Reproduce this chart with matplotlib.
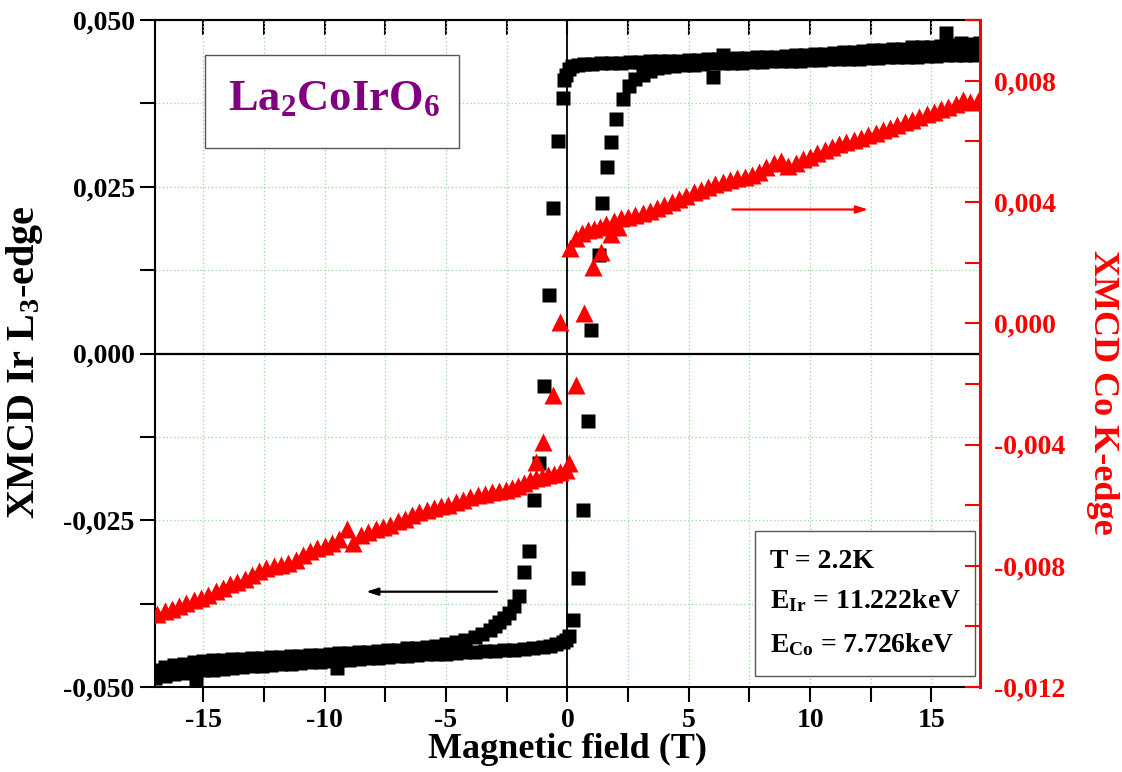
"""
XMCD hysteresis loops of La2CoIrO6 at T = 2.2 K
Ir L3-edge (left axis, black squares) and Co K-edge (right axis, red triangles).
"""
import matplotlib
matplotlib.use("Agg")
import matplotlib.pyplot as plt
import matplotlib.patches as mpatches
from matplotlib.ticker import MultipleLocator, FuncFormatter, NullFormatter

# ---- Ir L3-edge, sweep from +17 T down to -17 T
ir_down_field = [17.0, 16.6, 16.2, 15.8, 15.4, 15.0, 14.6, 14.2, 13.8, 13.4, 13.0, 12.6,
                 12.2, 11.8, 11.4, 11.0, 10.6, 10.2, 9.8, 9.4, 9.0, 8.6, 8.2, 7.8, 7.4,
                 7.0, 6.6, 6.2, 5.8, 5.4, 5.0, 4.6, 4.2, 3.8, 3.4, 3.0, 2.6, 2.2, 1.8,
                 1.4, 1.0, 0.7, 0.45, 0.2, 0.08, -0.05, -0.12, -0.19, -0.4, -0.6, -0.77,
                 -0.95, -1.15, -1.36, -1.57, -1.77, -1.98, -2.2, -2.4, -2.6, -2.8, -3.0,
                 -3.2, -3.5, -3.8, -4.2, -4.6, -5.0, -5.4, -5.8, -6.2, -6.6, -7.0, -7.4,
                 -7.8, -8.2, -8.6, -9.0, -9.4, -9.8, -10.2, -10.6, -11.0, -11.4, -11.8,
                 -12.2, -12.6, -13.0, -13.4, -13.8, -14.2, -14.6, -15.0, -15.4, -15.8,
                 -16.2, -16.6, -17.0]
ir_down_xmcd = [0.0466, 0.0464, 0.0465, 0.0462, 0.0461, 0.0460, 0.0459, 0.0459, 0.0457,
                0.0456, 0.0455, 0.0455, 0.0453, 0.0452, 0.0452, 0.0450, 0.0449, 0.0449,
                0.0447, 0.0447, 0.0446, 0.0445, 0.0445, 0.0444, 0.0443, 0.0443, 0.0442,
                0.0442, 0.0441, 0.0440, 0.0440, 0.0439, 0.0439, 0.0438, 0.0438, 0.0437,
                0.0437, 0.0436, 0.0436, 0.0435, 0.0434, 0.0434, 0.0433, 0.0431, 0.0426,
                0.0418, 0.0410, 0.0383, 0.0319, 0.0218, 0.0088, -0.0049, -0.0164, -0.0219,
                -0.0296, -0.0328, -0.0364, -0.0378, -0.0389, -0.0397, -0.0403, -0.0409,
                -0.0414, -0.0420, -0.0425, -0.0429, -0.0432, -0.0436, -0.0438, -0.0440,
                -0.0441, -0.0442, -0.0444, -0.0445, -0.0446, -0.0447, -0.0448, -0.0449,
                -0.0449, -0.0451, -0.0452, -0.0452, -0.0453, -0.0454, -0.0455, -0.0455,
                -0.0456, -0.0457, -0.0458, -0.0458, -0.0459, -0.0460, -0.0461, -0.0463,
                -0.0465, -0.0467, -0.0470, -0.0474]

# ---- Ir L3-edge, sweep from -17 T up to +17 T
ir_up_field = [-17.0, -16.6, -16.2, -15.8, -15.4, -15.0, -14.6, -14.2, -13.8, -13.4,
               -13.0, -12.6, -12.2, -11.8, -11.4, -11.0, -10.6, -10.2, -9.8, -9.4, -9.0,
               -8.6, -8.2, -7.8, -7.4, -7.0, -6.6, -6.2, -5.8, -5.4, -5.0, -4.6, -4.2,
               -3.8, -3.4, -3.0, -2.6, -2.2, -1.8, -1.4, -1.0, -0.7, -0.45, -0.2, -0.05,
               0.08, 0.22, 0.43, 0.63, 0.84, 0.97, 1.29, 1.43, 1.63, 1.8, 2.0, 2.28, 2.55,
               2.8, 3.1, 3.4, 3.7, 4.0, 4.4, 4.8, 5.2, 5.6, 6.0, 6.4, 6.8, 7.2, 7.6, 8.0,
               8.4, 8.8, 9.2, 9.6, 10.0, 10.4, 10.8, 11.2, 11.6, 12.0, 12.4, 12.8, 13.2,
               13.6, 14.0, 14.4, 14.8, 15.2, 15.6, 16.0, 16.4, 16.8, 17.0]
ir_up_xmcd = [-0.0487, -0.0484, -0.0481, -0.0479, -0.0477, -0.0475, -0.0474, -0.0473,
              -0.0471, -0.0470, -0.0469, -0.0468, -0.0467, -0.0466, -0.0465, -0.0464,
              -0.0463, -0.0462, -0.0461, -0.0460, -0.0459, -0.0458, -0.0457, -0.0456,
              -0.0455, -0.0454, -0.0453, -0.0452, -0.0451, -0.0450, -0.0450, -0.0449,
              -0.0448, -0.0447, -0.0446, -0.0446, -0.0445, -0.0444, -0.0443, -0.0442,
              -0.0440, -0.0438, -0.0435, -0.0432, -0.0429, -0.0424, -0.0399, -0.0336,
              -0.0234, -0.0101, 0.0036, 0.0148, 0.0226, 0.0279, 0.0317, 0.0351, 0.0381,
              0.0401, 0.0411, 0.0418, 0.0424, 0.0428, 0.0430, 0.0431, 0.0432, 0.0433,
              0.0434, 0.0435, 0.0435, 0.0436, 0.0436, 0.0437, 0.0437, 0.0438, 0.0438,
              0.0439, 0.0439, 0.0440, 0.0440, 0.0441, 0.0441, 0.0442, 0.0442, 0.0443,
              0.0443, 0.0444, 0.0444, 0.0445, 0.0445, 0.0446, 0.0446, 0.0447, 0.0447,
              0.0448, 0.0448, 0.0449]

# stray Ir points
ir_extra_field = [6.0, 6.4, 15.6, -9.5, -15.3]
ir_extra_xmcd = [0.0415, 0.0448, 0.0481, -0.0471, -0.0491]

# ---- Co K-edge, positive field branch
co_pos_field = [0.1, 0.35, 0.6, 0.85, 1.1, 1.35, 1.6, 1.9, 2.2, 2.5, 2.8, 3.1, 3.4, 3.7,
                4.0, 4.3, 4.6, 4.9, 5.2, 5.5, 5.8, 6.1, 6.4, 6.7, 7.0, 7.3, 7.6, 7.9, 8.2,
                8.5, 8.8, 9.1, 9.4, 9.7, 10.0, 10.3, 10.6, 10.9, 11.2, 11.5, 11.8, 12.1,
                12.4, 12.7, 13.0, 13.3, 13.6, 13.9, 14.2, 14.5, 14.8, 15.1, 15.4, 15.7,
                16.0, 16.3, 16.6, 16.9]
co_pos_xmcd = [0.00247, 0.00280, 0.00298, 0.00306, 0.00312, 0.00318, 0.00326, 0.00336,
               0.00346, 0.00352, 0.00358, 0.00364, 0.00370, 0.00380, 0.00390, 0.00400,
               0.00410, 0.00420, 0.00432, 0.00440, 0.00448, 0.00458, 0.00466, 0.00472,
               0.00478, 0.00484, 0.00490, 0.00500, 0.00514, 0.00530, 0.00536, 0.00518,
               0.00530, 0.00542, 0.00550, 0.00560, 0.00570, 0.00580, 0.00590, 0.00598,
               0.00604, 0.00612, 0.00620, 0.00628, 0.00636, 0.00644, 0.00654, 0.00664,
               0.00672, 0.00680, 0.00690, 0.00698, 0.00706, 0.00714, 0.00722, 0.00738,
               0.00730, 0.00732]

# ---- Co K-edge, return sweep rising out of the switching region
co_rise_field = [1.05, 1.39, 1.8, 2.1]
co_rise_xmcd = [0.00186, 0.00236, 0.00296, 0.00318]

# ---- Co K-edge, negative field branch
co_neg_field = [-0.05, -0.3, -0.55, -0.8, -1.05, -1.3, -1.55, -1.8, -2.05, -2.3, -2.55,
                -2.8, -3.1, -3.4, -3.7, -4.0, -4.3, -4.6, -4.9, -5.2, -5.5, -5.8, -6.1,
                -6.4, -6.7, -7.0, -7.3, -7.6, -7.9, -8.2, -8.5, -8.85, -9.1, -9.4, -9.7,
                -10.0, -10.3, -10.6, -10.9, -11.2, -11.5, -11.8, -12.1, -12.4, -12.7,
                -13.0, -13.3, -13.6, -13.9, -14.2, -14.5, -14.8, -15.1, -15.4, -15.7,
                -16.0, -16.3, -16.6, -16.9]
co_neg_xmcd = [-0.00484, -0.00490, -0.00496, -0.00500, -0.00506, -0.00512, -0.00517,
               -0.00528, -0.00536, -0.00544, -0.00550, -0.00553, -0.00558, -0.00562,
               -0.00568, -0.00574, -0.00582, -0.00590, -0.00598, -0.00604, -0.00610,
               -0.00616, -0.00624, -0.00632, -0.00644, -0.00652, -0.00664, -0.00672,
               -0.00680, -0.00690, -0.00700, -0.00725, -0.00677, -0.00712, -0.00726,
               -0.00734, -0.00742, -0.00750, -0.00766, -0.00782, -0.00792, -0.00796,
               -0.00800, -0.00806, -0.00818, -0.00830, -0.00842, -0.00852, -0.00860,
               -0.00872, -0.00884, -0.00896, -0.00906, -0.00912, -0.00922, -0.00932,
               -0.00942, -0.00948, -0.00958]

# stray Co points near zero field
co_extra_field = [-0.3, 0.7, 0.36, -0.6, -1.0, -1.3, 0.08]
co_extra_xmcd = [0.00005, 0.00033, -0.00204, -0.00237, -0.00391, -0.00457, -0.00462]

SERIF = "Liberation Serif"
plt.rcParams["font.family"] = SERIF
plt.rcParams["font.weight"] = "bold"
plt.rcParams["axes.unicode_minus"] = False
plt.rcParams["mathtext.fontset"] = "custom"
plt.rcParams["mathtext.rm"] = "Liberation Serif:bold"
plt.rcParams["mathtext.it"] = "Liberation Serif:bold"
plt.rcParams["mathtext.bf"] = "Liberation Serif:bold"

GRID_GREEN = "#8fdc8f"


def comma(v, pos):
    return f"{v:.3f}".replace(".", ",")


fig, ax = plt.subplots(figsize=(11.22, 7.72), dpi=100)
fig.subplots_adjust(left=0.138, right=0.8734, top=0.974, bottom=0.11)
ax2 = ax.twinx()

# grid + zero lines
ax.set_axisbelow(True)
ax.grid(which="both", color=GRID_GREEN, linestyle=(0, (1, 2)), linewidth=0.9)
ax.axhline(0, color="black", lw=1.6, zorder=1)
ax.axvline(0, color="black", lw=1.3, zorder=1)

# Ir L3-edge (left)
sq = dict(ls="none", marker="s", ms=10, mec="none", color="black", zorder=3)
ax.plot(ir_down_field, ir_down_xmcd, **sq)
ax.plot(ir_up_field, ir_up_xmcd, **sq)
ax.plot(ir_extra_field, ir_extra_xmcd, **sq)

# Co K-edge (right)
tri = dict(ls="none", marker="^", ms=12.5, mec="none", color="red", zorder=3)
ax2.plot(co_pos_field, co_pos_xmcd, **tri)
ax2.plot(co_rise_field, co_rise_xmcd, **tri)
ax2.plot(co_neg_field, co_neg_xmcd, **tri)
ax2.plot(co_extra_field, co_extra_xmcd, **tri)

# limits / ticks
ax.set_xlim(-17, 17)
ax.set_ylim(-0.05, 0.05)
ax2.set_ylim(-0.012, 0.010)

ax.xaxis.set_major_locator(MultipleLocator(5))
ax.xaxis.set_minor_locator(MultipleLocator(2.5))
ax.yaxis.set_major_locator(MultipleLocator(0.025))
ax.yaxis.set_minor_locator(MultipleLocator(0.0125))
ax.yaxis.set_major_formatter(FuncFormatter(comma))
ax.tick_params(which="both", direction="out", length=11, width=1.5,
               labelsize=20, right=False, top=False)
ax.tick_params(axis="x", pad=4)

top = ax.secondary_xaxis("top")
top.xaxis.set_major_locator(MultipleLocator(5))
top.xaxis.set_minor_locator(MultipleLocator(2.5))
top.xaxis.set_major_formatter(NullFormatter())
top.tick_params(which="both", direction="in", length=11, width=1.5)
top.spines["top"].set_linewidth(1.5)

ax2.yaxis.set_major_locator(MultipleLocator(0.004))
ax2.yaxis.set_minor_locator(MultipleLocator(0.002))
ax2.yaxis.set_major_formatter(FuncFormatter(comma))
ax2.tick_params(which="both", direction="in", length=11, width=1.5,
                colors="red", labelsize=20, pad=10)

for side in ("left", "bottom", "top"):
    ax.spines[side].set_linewidth(1.5)
ax.spines["right"].set_visible(False)
for side in ("left", "bottom", "top"):
    ax2.spines[side].set_visible(False)
ax2.spines["right"].set_color("red")
ax2.spines["right"].set_linewidth(2.2)

for lab in ax.get_xticklabels() + ax.get_yticklabels() + ax2.get_yticklabels():
    lab.set_fontweight("bold")

ax.set_xlabel("Magnetic field (T)", fontsize=26, fontweight="bold", labelpad=0)
ax.set_ylabel("XMCD Ir L$_3$-edge", fontsize=29, fontweight="bold", va="center")
ax.yaxis.set_label_coords(-0.158, 0.487)
ax2.set_ylabel("XMCD Co K-edge", fontsize=26, fontweight="bold", color="red",
               rotation=270, va="center")
ax2.yaxis.set_label_coords(1.148, 0.442)

# arrows pointing at the respective axis
ax.annotate("", xy=(-8.3, -0.0357), xytext=(-2.9, -0.0357),
            arrowprops=dict(arrowstyle="-|>,head_length=0.7,head_width=0.22",
                            color="black", lw=1.6, shrinkA=0, shrinkB=0))
ax.annotate("", xy=(12.4, 0.0216), xytext=(6.8, 0.0216),
            arrowprops=dict(arrowstyle="-|>,head_length=0.7,head_width=0.22",
                            color="red", lw=1.6, shrinkA=0, shrinkB=0))

# sample name box
ax.add_patch(mpatches.Rectangle((0.0606, 0.808), 0.308, 0.1395, transform=ax.transAxes,
                                fill=True, facecolor="white", edgecolor="#555555",
                                lw=1.0, zorder=4))
ax.text(0.0885, 0.865, "La$_2$CoIrO$_6$", transform=ax.transAxes, fontsize=32,
        fontweight="bold", color="#800080", ha="left", va="baseline", zorder=5)

# measurement conditions box
ax.add_patch(mpatches.Rectangle((0.727, 0.0165), 0.267, 0.2175, transform=ax.transAxes,
                                fill=True, facecolor="white", edgecolor="#555555",
                                lw=1.0, zorder=4))
info_lines = ["T = 2.2K", "E$_{\\mathrm{Ir}}$ = 11.222keV", "E$_{\\mathrm{Co}}$ = 7.726keV"]
info_y = [0.178, 0.118, 0.052]
for txt, yy in zip(info_lines, info_y):
    ax.text(0.745, yy, txt, transform=ax.transAxes, fontsize=20, fontweight="bold",
            ha="left", va="baseline", zorder=5)

fig.savefig("out.png", dpi=100)
plt.close(fig)
